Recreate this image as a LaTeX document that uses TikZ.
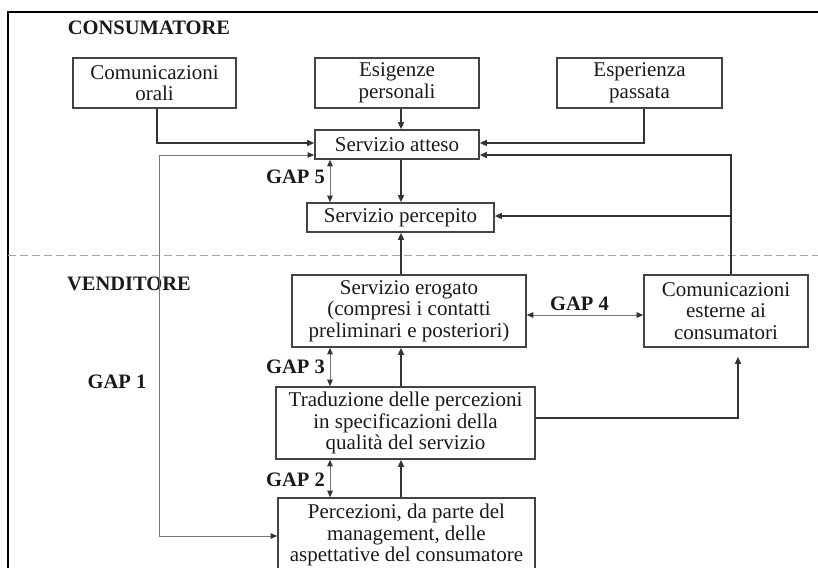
\documentclass[tikz,border=0pt]{standalone}
\usepackage{fontspec}
\setmainfont{Liberation Serif}
\usetikzlibrary{arrows.meta}
\definecolor{boxc}{HTML}{444444}
\definecolor{linec}{HTML}{333333}
\definecolor{gapc}{HTML}{777777}
\definecolor{txt}{HTML}{1A1A1A}
\newcommand\bxfont{\fontsize{21}{21.5}\selectfont}
\newcommand\lbfont{\fontsize{20.5}{22}\selectfont\bfseries}
\begin{document}
\begin{tikzpicture}[x=1pt,y=-1pt,
  box/.style={draw=boxc, line width=1.6pt, align=center, inner sep=0pt, font=\bxfont, text=txt},
  conn/.style={draw=linec, line width=1.4pt, -{Triangle[length=7pt,width=6pt]}},
  gapl/.style={draw=gapc, line width=0.9pt, {Triangle[length=6.5pt,width=5.5pt,color=linec]}-{Triangle[length=6.5pt,width=5.5pt,color=linec]}},
  lbl/.style={font=\lbfont, text=txt, inner sep=0pt}]
\useasboundingbox (0,0) rectangle (818,567);
\clip (0,0) rectangle (818,567);
% frame and separator
\draw[line width=2.2pt, black] (8,580) -- (8,12) -- (830,12);
\draw[gray!70, line width=1pt, dash pattern=on 8pt off 4pt] (8,255) -- (818,255);
% rows / columns
\coordinate (cx) at (401,0);
\coordinate (gx) at (330,0);
\coordinate (ex) at (731,0);
\coordinate (tx) at (738,0);
\coordinate (g1x) at (159,0);
\coordinate (r143) at (0,143);
\coordinate (r155) at (0,155);
\coordinate (r216) at (0,216);
\coordinate (r315) at (0,315);
\coordinate (r418) at (0,418);
\coordinate (r536) at (0,536);
% titles
\node[lbl] (cons) at (149,27.5) {CONSUMATORE};
\node[lbl] (vend) at (129,284) {VENDITORE};
% boxes
\node[box, minimum width=163, minimum height=50] (orali) at (154.5,83) {Comunicazioni\\orali};
\node[box, minimum width=164, minimum height=50] (esig) at (397,83) {Esigenze\\personali};
\node[box, minimum width=165, minimum height=50] (esper) at (639.5,83) {Esperienza\\passata};
\node[box, minimum width=164, minimum height=29] (atteso) at (397,144.5) {Servizio atteso};
\node[box, minimum width=187, minimum height=29] (percepito) at (400.5,217.5) {Servizio percepito};
\node[box, minimum width=234, minimum height=72] (erogato) at (409,311) {Servizio erogato\\(compresi i contatti\\preliminari e posteriori)};
\node[box, minimum width=164, minimum height=72] (esterne) at (726,311) {Comunicazioni\\esterne ai\\consumatori};
\node[box, minimum width=259, minimum height=72] (traduz) at (405.5,423) {Traduzione delle percezioni\\in specificazioni della\\qualità del servizio};
\node[box, minimum width=257, minimum height=74] (percez) at (406.5,535) {Percezioni, da parte del\\management, delle\\aspettative del consumatore};
% connectors
\draw[conn] ([xshift=2.5pt]orali.south) |- (atteso.west |- r143);
\draw[conn] (esig.south -| cx) -- (atteso.north -| cx);
\draw[conn] ([xshift=4.5pt]esper.south) |- (atteso.east |- r143);
\draw[conn] (esterne.north -| ex) |- (atteso.east |- r155);
\draw[conn] (ex |- r216) -- (percepito.east |- r216);
\draw[conn] (atteso.south -| cx) -- (percepito.north -| cx);
\draw[conn] (erogato.north -| cx) -- (percepito.south -| cx);
\draw[conn] (traduz.north -| cx) -- (erogato.south -| cx);
\draw[conn] (percez.north -| cx) -- (traduz.south -| cx);
\draw[conn, shorten >=9pt] (traduz.east |- r418) -| (esterne.south -| tx);
% gap arrows
\draw[gapl] (atteso.south -| gx) -- (percepito.north -| gx);
\draw[gapl] (erogato.south -| gx) -- (traduz.north -| gx);
\draw[gapl] (traduz.south -| gx) -- (percez.north -| gx);
\draw[gapl] (erogato.east |- r315) -- (esterne.west |- r315);
\draw[gapl] (atteso.west |- r155) -| (g1x |- r536) -- (percez.west |- r536);
% gap labels
\node[lbl, anchor=east] (g5) at (325,177) {GAP 5};
\node[lbl, anchor=east] (g3) at (325,366.5) {GAP 3};
\node[lbl, anchor=east] (g2) at (325,480) {GAP 2};
\node[lbl] (g4) at (579.5,304) {GAP 4};
\node[lbl] (g1) at (117,381.5) {GAP 1};
\end{tikzpicture}
\end{document}
